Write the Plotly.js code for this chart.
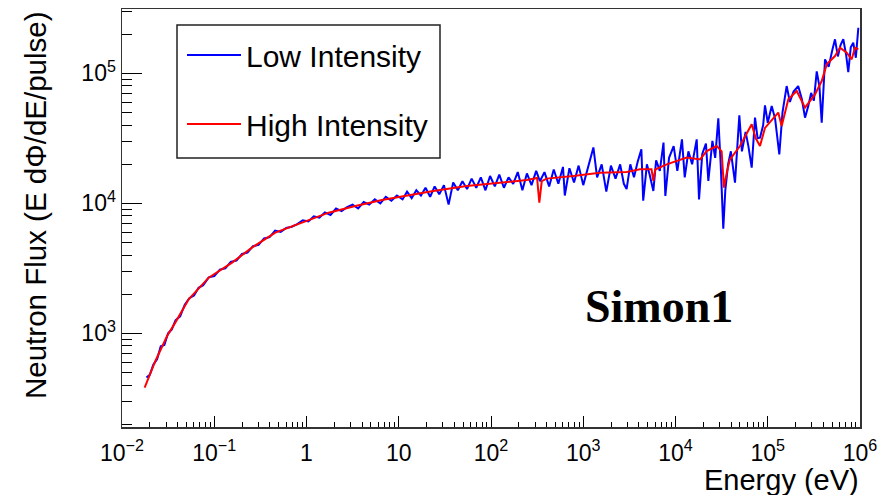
<!DOCTYPE html>
<html><head><meta charset="utf-8">
<script src="https://cdn.plot.ly/plotly-3.0.1.min.js"></script>
<style>html,body{margin:0;padding:0;background:#fff}#chart{width:888px;height:495px}</style>
</head><body><div id="chart"></div>
<script>
// Low Intensity (blue) — energy in eV, flux E dPhi/dE per pulse
const blueEnergy = [
 0.0184,0.0200,0.0219,0.0240,0.0263,0.0288,0.0316,0.0347,0.0380,0.0427,
 0.0479,0.0537,0.0603,0.0676,0.0759,0.0871,0.100,0.115,0.132,0.151,
 0.174,0.200,0.229,0.263,0.302,0.347,0.398,0.457,0.525,0.603,
 0.692,0.794,0.912,1.05,1.20,1.38,1.58,1.82,2.09,2.40,
 2.75,3.16,3.63,4.17,4.79,5.50,6.31,7.24,8.32,9.55,
 11.0,12.3,13.8,15.5,17.4,19.5,21.9,24.5,27.5,30.9,
 34.7,38.9,43.7,49.0,55.0,61.7,69.2,77.6,87.1,97.7,
 110,123,138,155,174,195,219,245,275,309,
 339,380,427,479,537,603,631,708,794,891,
 1000,1122,1288,1413,1585,1778,1995,2239,
 2512,2754,2951,3236,3548,3890,4266,4467,4898,5248,
 5754,6166,6761,7413,7762,8511,9550,10470,11750,12590,
 13800,15140,16980,17990,19500,21380,22700,25120,26920,29110,
 30900,32960,34670,37150,39810,44160,49200,52480,57540,61660,
 66990,72780,77620,82410,89130,93330,100000,110400,120200,133400,
 144500,160300,173800,190500,213800,234400,253500,275400,295100,316200,
 339600,363100,384600,417800,457100,501200,535800,575400,616600,659200,
 707900,746400,794300,845300,901600,959400
];
const blueFlux = [
 457,479,575,631,794,813,1000,1072,1259,1349,
 1660,1862,1950,2239,2344,2692,2754,3090,3162,3548,
 3631,4074,4169,4677,4786,5370,5495,6166,6026,6457,
 6607,6918,7413,7244,7943,7762,8511,8128,9120,8710,
 9333,9772,9120,10230,9772,10720,10000,11220,10470,11480,
 10720,12300,10960,12590,11480,13180,11220,13490,11750,13800,
 9772,14450,12590,14790,12880,15490,13180,15850,12590,16220,
 13490,16600,13180,15850,14130,17380,12590,16980,13800,17780,
 14790,17380,13490,18200,14130,19050,11480,18620,14450,19500,
 13800,19050,26920,15850,19950,12300,19500,15490,
 19950,14130,12880,19950,15850,20890,26000,10470,19950,16600,
 12450,21380,17780,29310,11380,22390,27540,17780,31050,15850,
 25120,19950,31050,10720,23990,28840,14860,30200,22390,45080,
 19950,6383,12590,19950,25120,14420,47530,25120,35480,27540,
 18840,45600,31620,31990,39810,56750,41690,56100,44670,23820,
 50120,79800,60260,72440,79800,63100,45600,56230,70790,61660,
 103500,79430,41780,128200,112200,151400,182800,134900,166000,182800,
 138000,102300,158500,172200,131800,224400
];
// High Intensity (red)
const redEnergy = [
 0.0176,0.0230,0.0308,0.0378,0.0528,0.0871,0.156,0.256,0.459,0.893,
 1.74,3.38,6.58,10.8,23.7,54.5,125,244,316,334,
 355,402,780,1521,2958,4121,5495,5754,6026,8035,
 13243,18450,21777,27990,31623,33497,36308,38994,50003,66988,
 74131,82414,93325,101390,130017,141579,167109,206063,253513,325087,
 384592,435512,535797,606736,717794,812831,883079,959401
];
const redFlux = [
 382,612,953,1208,1828,2679,3499,4560,5957,7112,
 8472,9528,10593,11272,12445,13583,14420,15101,15668,10116,
 14791,15488,16218,17219,17418,18281,18281,14859,18197,19953,
 22491,21777,25235,27606,25119,13213,17783,21777,27606,40551,
 31623,27606,38019,40551,49888,39355,63096,73114,54450,68865,
 87297,117220,135831,157761,144212,128233,157761,153109
];
const seriesNames = ['Low Intensity', 'High Intensity'];
const xTickVals = [0.01, 0.1, 1, 10, 100, 1000, 10000, 100000, 1000000];
const xTickText = ['10<sup>−2</sup>','10<sup>−1</sup>','1','10','10<sup>2</sup>','10<sup>3</sup>','10<sup>4</sup>','10<sup>5</sup>','10<sup>6</sup>'];
const yTickVals = [1000, 10000, 100000];
const yTickText = ['10<sup>3</sup>','10<sup>4</sup>','10<sup>5</sup>'];

function minorTicks(lo, hi) {
  const out = [];
  for (let d = lo; d <= hi; d++) for (let m = 2; m <= 9; m++) out.push(m * Math.pow(10, d));
  return out;
}

const traces = [
  {x: blueEnergy, y: blueFlux, name: seriesNames[0], type: 'scatter', mode: 'lines',
   line: {color: '#0000ff', width: 2}, legendgroup: 'a'},
  {x: redEnergy, y: redFlux, name: seriesNames[1], type: 'scatter', mode: 'lines',
   line: {color: '#ff0000', width: 2}, legendgroup: 'b'}
];

const W = 738, H = 418, L = 122, T = 9;
const px = v => (v - L) / W;
const py = v => (T + H - v) / H;

const layout = {
  width: 888, height: 495,
  margin: {l: 122, r: 28, t: 9, b: 68, pad: 0},
  paper_bgcolor: '#ffffff', plot_bgcolor: '#ffffff',
  font: {family: 'Liberation Sans, Arial, sans-serif', size: 23, color: '#000'},
  showlegend: true,
  legend: {x: px(182), y: py(29), xanchor: 'left', yanchor: 'top', bgcolor: 'rgba(0,0,0,0)',
    borderwidth: 0, font: {size: 30, color: '#000'}, tracegroupgap: 27, traceorder: 'grouped',
    itemwidth: 54},
  xaxis: {type: 'log', range: [-2, 6], tickmode: 'array', tickvals: xTickVals, ticktext: xTickText,
    ticks: 'inside', ticklen: 11, tickwidth: 1, tickcolor: '#000', ticklabelstandoff: 5,
    showline: true, linecolor: '#333', linewidth: 1.5, mirror: true, showgrid: false, zeroline: false,
    minor: {ticks: 'inside', ticklen: 5, tickwidth: 1, tickcolor: '#000', tickvals: minorTicks(-2, 5), showgrid: false},
    tickfont: {size: 23}},
  yaxis: {type: 'log', range: [2.279, 5.495], tickmode: 'array', tickvals: yTickVals, ticktext: yTickText,
    ticks: 'inside', ticklen: 20, tickwidth: 1, tickcolor: '#000',
    showline: true, linecolor: '#333', linewidth: 1.5, mirror: true, showgrid: false, zeroline: false,
    minor: {ticks: 'inside', ticklen: 10, tickwidth: 1, tickcolor: '#000', tickvals: minorTicks(2, 5), showgrid: false},
    tickfont: {size: 23}},
  shapes: [
    {type: 'rect', xref: 'paper', yref: 'paper', x0: px(177), x1: px(440), y0: py(158), y1: py(25),
     line: {color: '#222', width: 1.5}, fillcolor: 'rgba(0,0,0,0)', layer: 'above'}
  ],
  annotations: [
    {text: 'Neutron Flux (E dΦ/dE/pulse)', textangle: -90, xref: 'paper', yref: 'paper',
     x: px(35), y: py(9), xanchor: 'center', yanchor: 'top', showarrow: false, font: {size: 29.5}},
    {text: 'Energy (eV)', xref: 'paper', yref: 'paper', x: px(861), y: py(480),
     xanchor: 'right', yanchor: 'middle', showarrow: false, font: {size: 29}},
    {text: '<b>Simon1</b>', xref: 'paper', yref: 'paper', x: px(583), y: py(306),
     xanchor: 'left', yanchor: 'middle', showarrow: false,
     font: {family: 'Liberation Serif, Times New Roman, serif', size: 46, color: '#000'}}
  ]
};

Plotly.newPlot('chart', traces, layout, {displayModeBar: false, staticPlot: true});
</script>
</body></html>
